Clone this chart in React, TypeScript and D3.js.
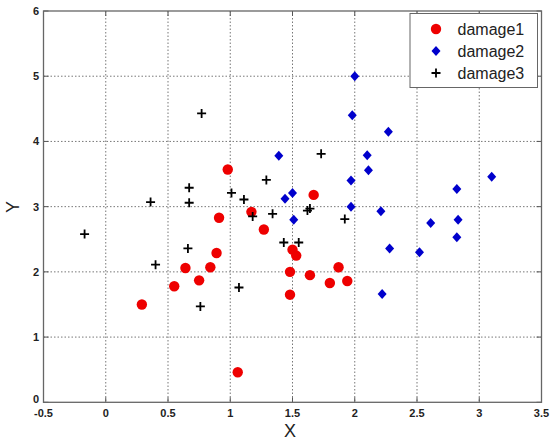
import React from "react";
import * as d3 from "d3";

const damage1X = [0.29, 0.55, 0.64, 0.75, 0.84, 0.89, 0.91, 0.98, 1.06, 1.17, 1.27, 1.67, 1.50, 1.53, 1.48, 1.64, 1.87, 1.80, 1.94, 1.48];
const damage1Y = [1.50, 1.78, 2.06, 1.87, 2.07, 2.29, 2.83, 3.57, 0.46, 2.92, 2.65, 3.18, 2.34, 2.25, 2.00, 1.95, 2.07, 1.83, 1.86, 1.65];

const damage2X = [2.00, 1.98, 2.27, 1.39, 2.10, 2.11, 1.97, 3.10, 2.82, 1.50, 1.44, 1.97, 2.21, 1.51, 2.61, 2.83, 2.82, 2.28, 2.52, 2.22];
const damage2Y = [5.00, 4.40, 4.15, 3.78, 3.79, 3.56, 3.40, 3.46, 3.27, 3.21, 3.12, 3.00, 2.93, 2.80, 2.75, 2.80, 2.53, 2.36, 2.30, 1.66];

const damage3X = [-0.17, 0.36, 0.40, 0.67, 0.67, 0.66, 0.76, 0.77, 1.01, 1.11, 1.07, 1.18, 1.29, 1.34, 1.73, 1.62, 1.64, 1.92, 1.43, 1.55];
const damage3Y = [2.58, 3.07, 2.11, 3.29, 3.06, 2.36, 1.47, 4.43, 3.21, 3.11, 1.76, 2.85, 3.41, 2.89, 3.81, 2.94, 2.97, 2.81, 2.45, 2.45];

const xTicks = [-0.5, 0, 0.5, 1, 1.5, 2, 2.5, 3, 3.5];
const yTicks = [0, 1, 2, 3, 4, 5, 6];
const seriesNames = ["damage1", "damage2", "damage3"];

const W = 550, H = 441;
const L = 43.5, R = 541.5, T = 11, B = 402.3;

export default function App() {
  const x = d3.scaleLinear().domain([-0.5, 3.5]).range([L, R]);
  const y = d3.scaleLinear().domain([0, 6]).range([B, T]);
  const font = "Arial, 'Liberation Sans', sans-serif";

  const circle = (cx: number, cy: number, k: string) => (
    <circle key={k} cx={cx} cy={cy} r={5.2} fill="#ee0000" />
  );
  const diamond = (cx: number, cy: number, k: string) => (
    <path key={k} d={`M${cx},${cy - 5}L${cx + 4.5},${cy}L${cx},${cy + 5}L${cx - 4.5},${cy}Z`} fill="#0000cc" />
  );
  const plus = (cx: number, cy: number, k: string) => (
    <path key={k} d={`M${cx - 4.5},${cy}H${cx + 4.5}M${cx},${cy - 4.5}V${cy + 4.5}`} stroke="#000" strokeWidth={1.8} fill="none" />
  );

  return (
    <svg width={W} height={H} style={{ position: "absolute", left: 0, top: 0, background: "#fff" }} fontFamily={font}>
      <rect x={0} y={0} width={W} height={H} fill="#fff" />
      {/* grid */}
      {xTicks.slice(1, -1).map((t) => (
        <line key={"gx" + t} x1={x(t)} x2={x(t)} y1={T} y2={B} stroke="#777" strokeWidth={1} strokeDasharray="1.5,2" />
      ))}
      {yTicks.slice(1, -1).map((t) => (
        <line key={"gy" + t} x1={L} x2={R} y1={y(t)} y2={y(t)} stroke="#777" strokeWidth={1} strokeDasharray="1.5,2" />
      ))}
      {/* ticks */}
      {xTicks.map((t) => (
        <g key={"tx" + t}>
          <line x1={x(t)} x2={x(t)} y1={B} y2={B - 5} stroke="#555" />
          <line x1={x(t)} x2={x(t)} y1={T} y2={T + 5} stroke="#555" />
          <text x={x(t)} y={417} textAnchor="middle" fontSize={11} fontWeight="bold" fill="#222">{String(t)}</text>
        </g>
      ))}
      {yTicks.map((t) => (
        <g key={"ty" + t}>
          <line x1={L} x2={L + 5} y1={y(t)} y2={y(t)} stroke="#555" />
          <line x1={R} x2={R - 5} y1={y(t)} y2={y(t)} stroke="#555" />
          <text x={39} y={y(t) - (t === 0 ? 3 : 0)} dy="0.35em" textAnchor="end" fontSize={11} fontWeight="bold" fill="#222">{String(t)}</text>
        </g>
      ))}
      <rect x={L} y={T} width={R - L} height={B - T} fill="none" stroke="#666" strokeWidth={1.3} />
      {/* data */}
      {damage1X.map((v, i) => circle(x(v), y(damage1Y[i]), "a" + i))}
      {damage2X.map((v, i) => diamond(x(v), y(damage2Y[i]), "b" + i))}
      {damage3X.map((v, i) => plus(x(v), y(damage3Y[i]), "c" + i))}
      {/* legend */}
      <rect x={410} y={13.5} width={127.5} height={74} fill="#fff" stroke="#666" strokeWidth={1} />
      {seriesNames.map((n, i) => {
        const cy = 29 + i * 22;
        return (
          <g key={n}>
            {i === 0 ? circle(436, cy, "la") : i === 1 ? diamond(436, cy, "lb") : plus(436, cy, "lc")}
            <text x={457.5} y={cy} dy="0.35em" fontSize={16} fill="#222">{n}</text>
          </g>
        );
      })}
      {/* axis labels */}
      <text x={290} y={437} textAnchor="middle" fontSize={18} fill="#222">X</text>
      <text transform={`translate(19,${207}) rotate(-90)`} textAnchor="middle" fontSize={18} fill="#222">Y</text>
    </svg>
  );
}
